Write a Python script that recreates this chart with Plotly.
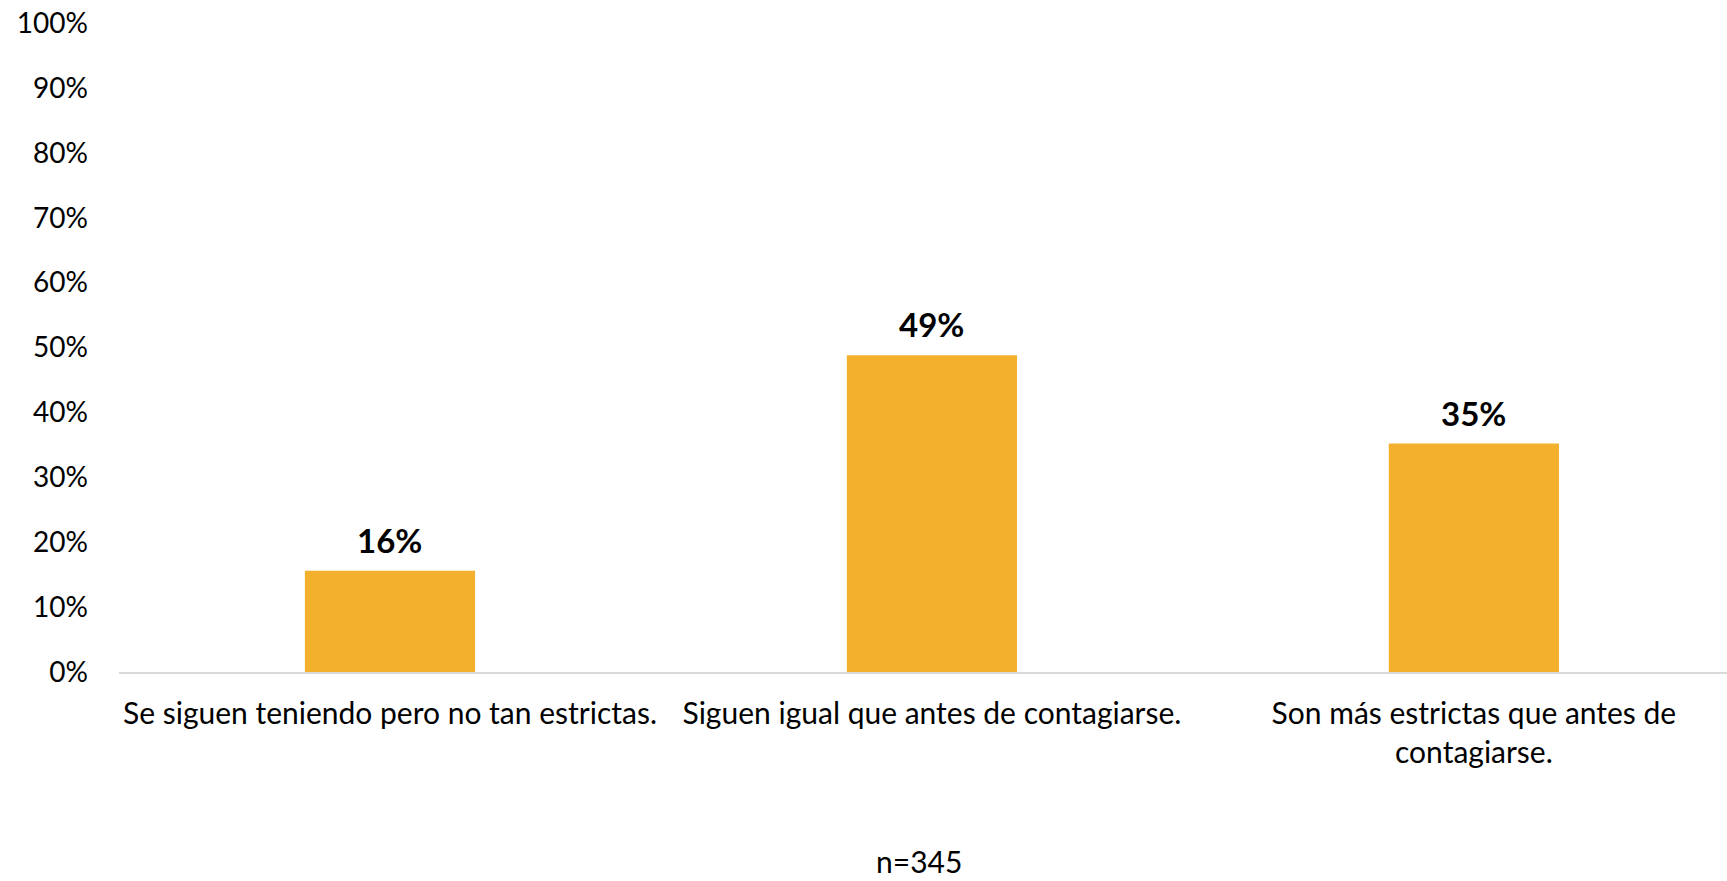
import plotly.graph_objects as go

categories = [
    "Se siguen teniendo pero no tan estrictas.",
    "Siguen igual que antes de contagiarse.",
    "Son más estrictas que antes de contagiarse.",
]
category_labels = [
    "Se siguen teniendo pero no tan estrictas.",
    "Siguen igual que antes de contagiarse.",
    "Son más estrictas que antes de<br>contagiarse.",
]
values = [0.156, 0.488, 0.352]
value_labels = ["16%", "49%", "35%"]
y_ticks = [0, 0.1, 0.2, 0.3, 0.4, 0.5, 0.6, 0.7, 0.8, 0.9, 1.0]
y_tick_labels = ["0%", "10%", "20%", "30%", "40%", "50%", "60%", "70%", "80%", "90%", "100%"]
note = "n=345"

FONT = "Lato"
BAR_COLOR = "#F3B02D"

W, H = 1727, 881
ML, MR, MT, MB = 119, 0, 23, 209
PW, PH = W - ML - MR, H - MT - MB

fig = go.Figure()
fig.add_trace(go.Bar(
    x=categories,
    y=values,
    width=0.314,
    marker=dict(color=BAR_COLOR, line=dict(width=0)),
    hoverinfo="skip",
))

for c, v, t in zip(categories, values, value_labels):
    fig.add_annotation(
        x=c, y=v, text=f"<b>{t}</b>", showarrow=False,
        yanchor="middle", yshift=31,
        font=dict(family=FONT, size=33, color="#000000"),
    )

fig.add_annotation(
    x=(919 - ML) / PW, y=-(861 - (H - MB)) / PH,
    xref="paper", yref="paper", text=note, showarrow=False,
    xanchor="center", yanchor="middle", borderpad=0,
    font=dict(family=FONT, size=30, color="#000000"),
)

fig.update_layout(
    width=W, height=H,
    margin=dict(l=ML, r=MR, t=MT, b=MB),
    paper_bgcolor="white", plot_bgcolor="white",
    showlegend=False,
    font=dict(family=FONT, color="#000000"),
    xaxis=dict(
        type="category",
        range=[-0.5, 2.467],
        tickmode="array",
        tickvals=categories,
        ticktext=category_labels,
        tickfont=dict(family=FONT, size=30, color="#000000"),
        showline=True, linecolor="#D9D9D9", linewidth=2,
        showgrid=False, ticks="", zeroline=False,
        ticklabelstandoff=14,
    ),
    yaxis=dict(
        range=[0, 1],
        tickmode="array",
        tickvals=y_ticks,
        ticktext=y_tick_labels,
        tickfont=dict(family=FONT, size=28, color="#000000"),
        showline=False, showgrid=False, zeroline=False, ticks="",
        ticklabelstandoff=30,
    ),
)

fig.write_html(
    "out.html",
    config={"displayModeBar": False},
    post_script="document.body.style.margin='0';document.body.style.overflow='hidden';",
)
